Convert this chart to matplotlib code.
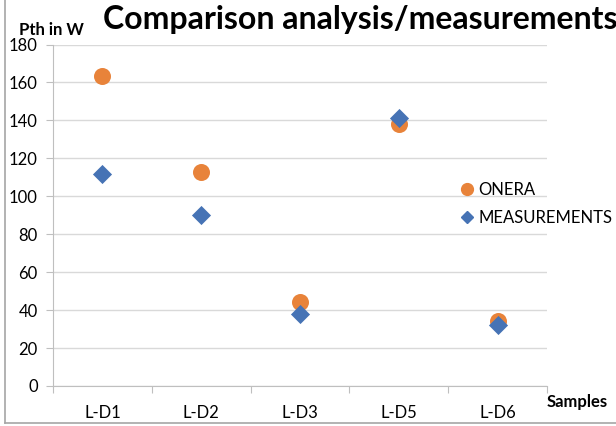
import matplotlib
matplotlib.use("Agg")
import matplotlib.pyplot as plt
from matplotlib.lines import Line2D

categories = ["L-D1", "L-D2", "L-D3", "L-D5", "L-D6"]
onera = [163.5, 113, 44.5, 138, 34.5]
measurements = [112, 90, 38, 141, 32]
yticks = [0, 20, 40, 60, 80, 100, 120, 140, 160, 180]

W, H = 616, 426
fig = plt.figure(figsize=(W / 100, H / 100), dpi=100)
plt.rcParams['font.family'] = ['Lato', 'DejaVu Sans']

# axes box in pixels
x0, x1 = 53, 547
y0, y1 = 386, 44.5
ax = fig.add_axes([x0 / W, 1 - y0 / H, (x1 - x0) / W, (y0 - y1) / H])
xs = list(range(len(categories)))
ax.set_xlim(-0.5, len(categories) - 0.5)
ax.set_ylim(0, 180)
ax.set_yticks(yticks)
ax.set_xticks([i - 0.5 for i in range(len(categories) + 1)])
ax.set_xticklabels([])
ax.set_xticks(xs, minor=True)
ax.set_xticklabels(categories, minor=True, fontsize=12)
ax.tick_params(axis='x', which='minor', length=0, pad=14)
ax.tick_params(axis='x', which='major', length=5, color='#bfbfbf', width=0.8)
ax.tick_params(axis='y', length=5, color='#bfbfbf', width=0.8, labelsize=12, pad=6)
ax.grid(axis='y', color='#d9d9d9', linewidth=1)
ax.set_axisbelow(True)
for s in ['top', 'right']:
    ax.spines[s].set_visible(False)
for s in ['left', 'bottom']:
    ax.spines[s].set_color('#bfbfbf')
    ax.spines[s].set_linewidth(0.8)

ax.scatter(xs, onera, s=150, marker='o', color='#E8833A', clip_on=False, zorder=3, linewidths=0)
ax.scatter(xs, measurements, s=95, marker='D', color='#4673B5', clip_on=False, zorder=4, linewidths=0)

# title and axis labels
fig.text(103 / W, 1 - 19 / H, "Comparison analysis/measurements", fontsize=23, fontweight='bold',
         ha='left', va='center')
fig.text(19 / W, 1 - 30 / H, "Pth in W", fontsize=12, fontweight='bold', ha='left', va='center')
fig.text(608 / W, 1 - 402 / H, "Samples", fontsize=12, fontweight='bold', ha='right', va='center')

# legend
handles = [Line2D([], [], marker='o', linestyle='none', color='#E8833A', markersize=8.5),
           Line2D([], [], marker='D', linestyle='none', color='#4673B5', markersize=6.5)]
fig.legend(handles, ["ONERA", "MEASUREMENTS"], loc='upper left',
           bbox_to_anchor=(460 / W, 1 - 182 / H), frameon=False, fontsize=12,
           handlelength=0.8, handletextpad=0.3, labelspacing=0.7, borderaxespad=0,
           borderpad=0)

# chart border (left & bottom visible)
fig.add_artist(Line2D([5 / W, 5 / W], [1, 1 - 423 / H], color='#a6a6a6', lw=1.2, transform=fig.transFigure))
fig.add_artist(Line2D([5 / W, 1], [1 - 423 / H, 1 - 423 / H], color='#a6a6a6', lw=1.2, transform=fig.transFigure))

fig.savefig("out.png", dpi=100, facecolor='white')
